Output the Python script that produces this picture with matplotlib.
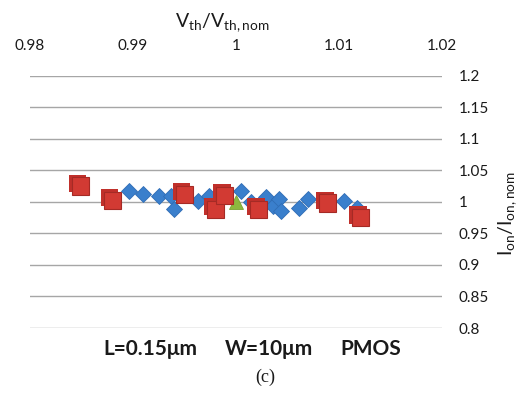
import matplotlib
matplotlib.use("Agg")
import matplotlib.pyplot as plt
import matplotlib.patheffects as pe

plt.rcParams['font.family'] = ['Lato', 'DejaVu Sans']
plt.rcParams['mathtext.default'] = 'regular'

# Data
red_x = [0.9849, 0.9880, 0.9950, 0.9980, 0.9989, 1.0022, 1.0089, 1.0121]
red_y = [1.025, 1.002, 1.012, 0.988, 1.010, 0.988, 0.998, 0.975]

blue_x = [0.9896, 0.9910, 0.9925, 0.9937, 0.9940, 0.9963, 0.9974, 1.0005, 1.0015,
          1.0029, 1.0036, 1.0042, 1.0044, 1.0061, 1.0070, 1.0087, 1.0105, 1.0117]
blue_y = [1.017, 1.012, 1.009, 1.009, 0.988, 1.002, 1.009, 1.017, 1.000,
          1.007, 0.993, 1.004, 0.985, 0.991, 1.004, 0.996, 1.001, 0.991]

green_x = [1.0]
green_y = [1.0]

x_ticks = [0.98, 0.99, 1.0, 1.01, 1.02]
x_tick_labels = ['0.98', '0.99', '1', '1.01', '1.02']
y_ticks = [0.8, 0.85, 0.9, 0.95, 1.0, 1.05, 1.1, 1.15, 1.2]
y_tick_labels = ['0.8', '0.85', '0.9', '0.95', '1', '1.05', '1.1', '1.15', '1.2']

caption_parts = [u'L=0.15\u03bcm', u'W=10\u03bcm', 'PMOS']

fig = plt.figure(figsize=(5.28, 3.96), dpi=100)
W, H = 528, 396
ax = fig.add_axes([30 / W, (H - 328) / H, (442 - 30) / W, (328 - 75.7) / H])

ax.set_xlim(0.98, 1.02)
ax.set_ylim(0.8, 1.2)

ax.plot(blue_x, blue_y, linestyle='none', marker='D', markersize=8.5,
        color='#3a7fcc', markeredgecolor='#2f6db5', markeredgewidth=0.6, zorder=3)
ax.plot(red_x, red_y, linestyle='none', marker='s', markersize=12.5,
        color='#d23a33', markeredgecolor='#a52a25', markeredgewidth=0.8, zorder=4,
        path_effects=[pe.SimplePatchShadow(offset=(-2, 2), shadow_rgbFace='#c0302b', alpha=1.0),
                      pe.Normal()])
ax.plot(green_x, green_y, linestyle='none', marker='^', markersize=10,
        color='#8db83e', markeredgecolor='#7aa232', markeredgewidth=0.6, zorder=3)

ax.set_xticks(x_ticks)
ax.set_xticklabels(x_tick_labels)
ax.set_yticks(y_ticks)
ax.set_yticklabels(y_tick_labels)
ax.xaxis.tick_top()
ax.yaxis.tick_right()
ax.tick_params(axis='both', length=0, labelsize=11, colors='#1a1a1a')
ax.tick_params(axis='x', pad=16)
ax.tick_params(axis='y', pad=12)
for lbl in ax.get_yticklabels():
    lbl.set_horizontalalignment('left')

ax.yaxis.grid(True, color='#a6a6a6', linewidth=1.0)
ax.xaxis.grid(False)
ax.set_axisbelow(True)
for s in ax.spines.values():
    s.set_visible(False)

fig.text(222 / W, 1 - 23 / H, r'V$_{th}$/V$_{th,nom}$', ha='center', va='center',
         fontsize=14, color='#1a1a1a')
fig.text(508 / W, 1 - 214 / H, r'I$_{on}$/I$_{on,nom}$', ha='center', va='center',
         rotation=90, fontsize=14, color='#1a1a1a')
for part, cx in zip(caption_parts, [150, 269, 371]):
    fig.text(cx / W, 1 - 349 / H, part, ha='center', va='center', fontsize=15,
             fontweight='bold', color='#1a1a1a')
fig.text(265 / W, 1 - 377 / H, '(c)', ha='center', va='center', fontsize=13,
         family=['Liberation Serif', 'DejaVu Serif'], color='#1a1a1a')

fig.savefig('out.png', dpi=100)
